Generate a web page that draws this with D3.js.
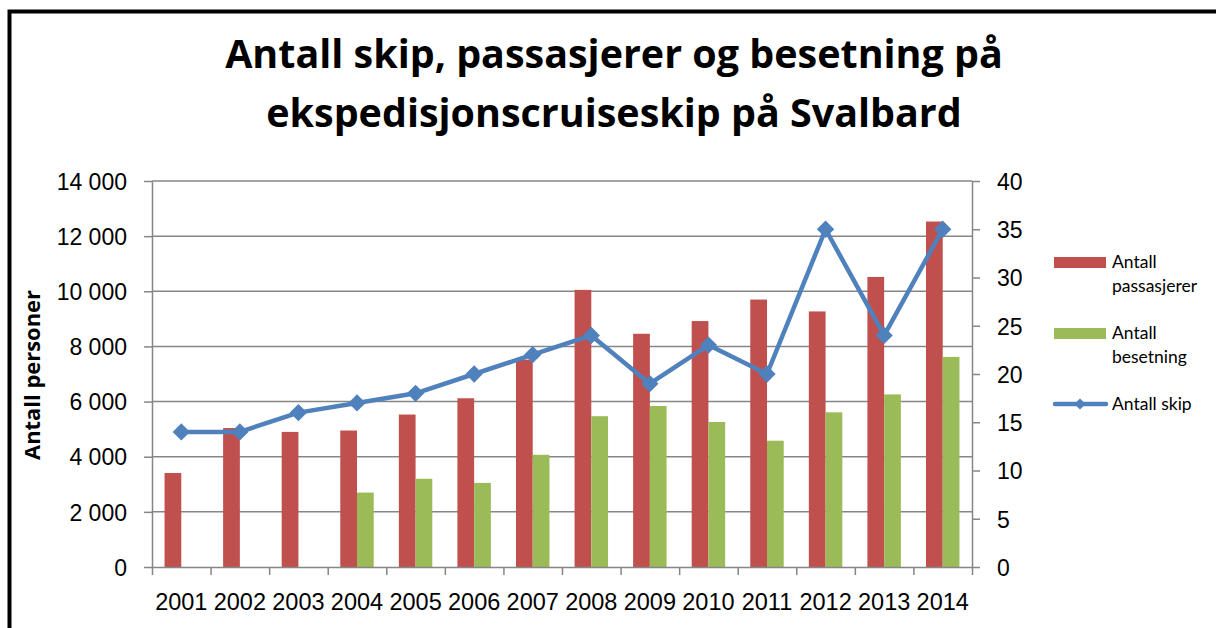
<!DOCTYPE html>
<html>
<head>
  <meta charset="utf-8">
  <title>Antall skip, passasjerer og besetning</title>
  <style>
    body { margin: 0; background: #fff; }
    svg { display: block; font-family: Lato, "Noto Sans", sans-serif; }
    .axis text { font-size: 23px; fill: #000; }
    .axis path, .axis line { stroke: #868686; stroke-width: 1.5; }
    .grid line { stroke: #868686; stroke-width: 1.5; }
  </style>
</head>
<body>
  <svg width="1216" height="628"></svg>
  <script src="https://d3js.org/d3.v7.min.js"></script>
  <script>
    // data
    const years = ["2001", "2002", "2003", "2004", "2005", "2006", "2007",
                   "2008", "2009", "2010", "2011", "2012", "2013", "2014"];
    const passasjerer = [3410, 5040, 4900, 4950, 5530, 6120, 7520,
                         10050, 8460, 8920, 9700, 9270, 10520, 12530];
    const besetning = [null, null, null, 2700, 3200, 3050, 4070,
                       5470, 5840, 5260, 4580, 5610, 6260, 7620];
    const skip = [14, 14, 16, 17, 18, 20, 22, 24, 19, 23, 20, 35, 24, 35];
    const leftTicks = [0, 2000, 4000, 6000, 8000, 10000, 12000, 14000];
    const rightTicks = [0, 5, 10, 15, 20, 25, 30, 35, 40];
    const seriesNames = ["Antall passasjerer", "Antall besetning", "Antall skip"];

    const red = "#C0504D", green = "#9BBB59", blue = "#4F81BD";

    const svg = d3.select("svg");
    const plot = {left: 152, right: 972, top: 181, bottom: 567};

    // scale a text's font size so it spans the wanted length
    function fitText(sel, size, want) {
      sel.attr("font-size", size);
      const got = sel.node().getComputedTextLength();
      sel.attr("font-size", size * want / got);
    }

    // outer frame (runs off the right and bottom edges)
    svg.append("path")
      .attr("d", "M9.5,640 L9.5,11.5 L1230,11.5")
      .attr("fill", "none")
      .attr("stroke", "#000")
      .attr("stroke-width", 4);

    // title
    const t1 = svg.append("text")
      .attr("x", 614).attr("y", 68)
      .attr("text-anchor", "middle")
      .attr("font-family", "'Open Sans', 'Noto Sans', sans-serif")
      .attr("font-weight", "bold")
      .text("Antall skip, passasjerer og besetning på");
    fitText(t1, 35, 778);
    svg.append("text")
      .attr("x", 614).attr("y", 127)
      .attr("text-anchor", "middle")
      .attr("font-family", "'Open Sans', 'Noto Sans', sans-serif")
      .attr("font-weight", "bold")
      .attr("font-size", t1.attr("font-size"))
      .text("ekspedisjonscruiseskip på Svalbard");

    const x = d3.scaleBand().domain(years).range([plot.left, plot.right]);
    const xSub = d3.scaleBand().domain(["p", "b"])
      .range([0, x.bandwidth()]).paddingOuter(0.75);
    const xIdx = d3.scaleLinear().domain([0, years.length]).range([plot.left, plot.right]);
    const y = d3.scaleLinear().domain([0, 14000]).range([plot.bottom, plot.top]);
    const y2 = d3.scaleLinear().domain([0, 40]).range([plot.bottom, plot.top]);

    const fmt = d => d3.format(",")(d).replace(/,/g, " ");

    // gridlines
    svg.append("g").attr("class", "grid")
      .selectAll("line")
      .data(leftTicks.filter(d => d > 0))
      .join("line")
      .attr("x1", plot.left).attr("x2", plot.right)
      .attr("y1", d => y(d)).attr("y2", d => y(d));

    // bars
    svg.append("g").selectAll("rect")
      .data(years.map((yr, i) => ({yr, v: passasjerer[i]})))
      .join("rect")
      .attr("x", d => x(d.yr) + xSub("p"))
      .attr("width", xSub.bandwidth())
      .attr("y", d => y(d.v))
      .attr("height", d => y(0) - y(d.v))
      .attr("fill", red);

    svg.append("g").selectAll("rect")
      .data(years.map((yr, i) => ({yr, v: besetning[i]})).filter(d => d.v != null))
      .join("rect")
      .attr("x", d => x(d.yr) + xSub("b"))
      .attr("width", xSub.bandwidth())
      .attr("y", d => y(d.v))
      .attr("height", d => y(0) - y(d.v))
      .attr("fill", green);

    // axes
    svg.append("g").attr("class", "axis")
      .attr("transform", "translate(" + plot.left + ",0)")
      .call(d3.axisLeft(y).tickValues(leftTicks).tickFormat(fmt).tickSize(8).tickSizeOuter(0).tickPadding(17))
      .selectAll("text").attr("dy", "0.36em");

    svg.append("g").attr("class", "axis")
      .attr("transform", "translate(" + plot.right + ",0)")
      .call(d3.axisRight(y2).tickValues(rightTicks).tickSize(8).tickSizeOuter(0).tickPadding(17))
      .selectAll("text").attr("dy", "0.36em");

    const xAxis = svg.append("g").attr("class", "axis")
      .attr("transform", "translate(0," + plot.bottom + ")");
    xAxis.call(d3.axisBottom(xIdx).tickValues(d3.range(years.length + 1))
      .tickFormat("").tickSize(8).tickSizeOuter(0));
    xAxis.selectAll(".yr")
      .data(years)
      .join("text")
      .attr("class", "yr")
      .attr("x", d => x(d) + x.bandwidth() / 2)
      .attr("y", 43)
      .attr("text-anchor", "middle")
      .style("font-size", "23.5px")
      .text(d => d);

    // y axis title
    const yt = svg.append("text")
      .attr("transform", "translate(40,375) rotate(-90)")
      .attr("text-anchor", "middle")
      .attr("font-family", "'Open Sans', 'Noto Sans', sans-serif")
      .attr("font-weight", "bold")
      .text("Antall personer");
    fitText(yt, 20, 170);

    // ships line
    const cx = d => x(d) + x.bandwidth() / 2;
    svg.append("path")
      .datum(years.map((yr, i) => [cx(yr), y2(skip[i])]))
      .attr("d", d3.line())
      .attr("fill", "none")
      .attr("stroke", blue)
      .attr("stroke-width", 4.5)
      .attr("stroke-linejoin", "round");

    svg.append("g").selectAll("path")
      .data(years.map((yr, i) => ({yr, v: skip[i]})))
      .join("path")
      .attr("d", d3.symbol(d3.symbolSquare, 150))
      .attr("transform", d => "translate(" + cx(d.yr) + "," + y2(d.v) + ") rotate(45)")
      .attr("fill", blue);

    // legend
    const lg = svg.append("g").attr("font-size", 17.5);
    lg.append("rect").attr("x", 1054).attr("y", 257).attr("width", 52).attr("height", 11).attr("fill", red);
    lg.append("rect").attr("x", 1054).attr("y", 328).attr("width", 52).attr("height", 11).attr("fill", green);
    lg.append("line").attr("x1", 1055).attr("x2", 1106).attr("y1", 404).attr("y2", 404)
      .attr("stroke", blue).attr("stroke-width", 4.5).attr("stroke-linecap", "round");
    lg.append("path").attr("d", d3.symbol(d3.symbolSquare, 60))
      .attr("transform", "translate(1080,404) rotate(45)").attr("fill", blue);

    const legendText = [
      {lines: seriesNames[0].split(" "), y: 262},
      {lines: seriesNames[1].split(" "), y: 333},
      {lines: [seriesNames[2]], y: 404}
    ];
    legendText.forEach(function(d) {
      const t = lg.append("text").attr("x", 1112).attr("y", d.y).attr("dy", "0.35em");
      d.lines.forEach(function(l, i) {
        t.append("tspan").attr("x", 1112).attr("dy", i === 0 ? "0.35em" : 24).text(l);
      });
    });
  </script>
</body>
</html>
